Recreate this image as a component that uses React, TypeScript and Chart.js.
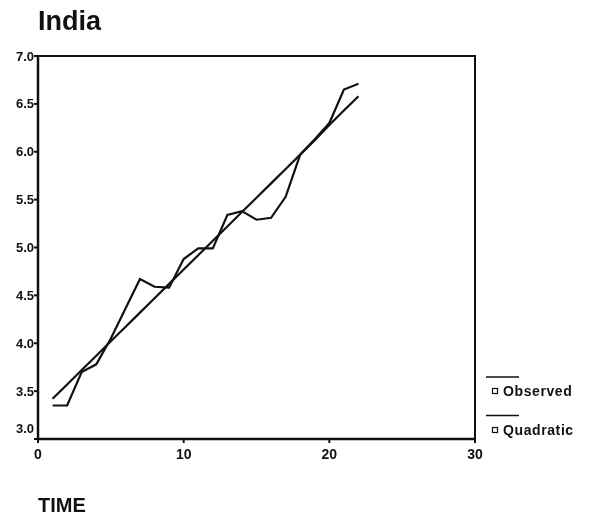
import { useEffect, useRef } from "react";
import { Chart, registerables } from "chart.js";

Chart.register(...registerables);

// Time index for each yearly observation
const TIME = [1, 2, 3, 4, 5, 6, 7, 8, 9, 10, 11, 12, 13, 14, 15, 16, 17, 18, 19, 20, 21, 22];

// Observed series
const OBSERVED = [
  3.35, 3.35, 3.7, 3.78, 4.05, 4.36, 4.67, 4.59, 4.58, 4.88, 4.99,
  4.99, 5.34, 5.38, 5.29, 5.31, 5.53, 5.97, 6.13, 6.3, 6.65, 6.71,
];

// Fitted quadratic trend
const QUADRATIC = [
  3.42, 3.57, 3.72, 3.87, 4.02, 4.17, 4.32, 4.47, 4.62, 4.77, 4.92,
  5.07, 5.22, 5.37, 5.52, 5.67, 5.82, 5.97, 6.12, 6.28, 6.43, 6.58,
];

const X_TICKS = [0, 10, 20, 30];
const Y_TICKS = [3.0, 3.5, 4.0, 4.5, 5.0, 5.5, 6.0, 6.5, 7.0];
const TITLE = "India";
const X_TITLE = "TIME";
const SERIES_NAMES = ["Observed", "Quadratic"];

const FONT = "'Liberation Sans', Arial, Helvetica, sans-serif";
const INK = "#111";

const frame = {
  id: "frame",
  afterDraw(chart: any) {
    const { ctx, chartArea } = chart;
    const { left, top, right, bottom } = chartArea;
    const xs = chart.scales.x;
    const ys = chart.scales.y;
    ctx.save();
    ctx.strokeStyle = INK;
    ctx.fillStyle = INK;

    // plot box
    ctx.lineWidth = 2;
    ctx.strokeRect(left, top, right - left, bottom - top);
    ctx.lineWidth = 2.5;
    ctx.beginPath();
    ctx.moveTo(left - 1, bottom);
    ctx.lineTo(right + 1, bottom);
    ctx.moveTo(left, top);
    ctx.lineTo(left, bottom);
    ctx.stroke();

    // x ticks and labels
    ctx.lineWidth = 2;
    ctx.font = `bold 14px ${FONT}`;
    ctx.textAlign = "center";
    ctx.textBaseline = "alphabetic";
    X_TICKS.forEach((v) => {
      const px = xs.getPixelForValue(v);
      ctx.beginPath();
      ctx.moveTo(px, bottom);
      ctx.lineTo(px, bottom + 4);
      ctx.stroke();
      ctx.fillText(String(v), px, bottom + 20);
    });

    // y ticks and labels
    ctx.font = `bold 13px ${FONT}`;
    ctx.textAlign = "right";
    Y_TICKS.forEach((v) => {
      const py = ys.getPixelForValue(v);
      ctx.beginPath();
      ctx.moveTo(left - 4, py);
      ctx.lineTo(left, py);
      ctx.stroke();
      const shift = v === ys.min ? -11 : 0;
      ctx.fillText(v.toFixed(1), left - 4, py + 4.5 + shift);
    });

    // titles
    ctx.textAlign = "left";
    ctx.font = `bold 27px ${FONT}`;
    ctx.fillText(TITLE, left, 30);
    ctx.font = `bold 20px ${FONT}`;
    ctx.fillText(X_TITLE, left, 512);

    // legend
    ctx.font = `bold 14px ${FONT}`;
    (ctx as any).letterSpacing = "0.6px";
    SERIES_NAMES.forEach((name, i) => {
      const lineY = 377 + i * 38.5;
      const rowY = 391 + i * 39;
      ctx.lineWidth = 1.5;
      ctx.beginPath();
      ctx.moveTo(486, lineY);
      ctx.lineTo(519, lineY);
      ctx.stroke();
      ctx.lineWidth = 1.2;
      ctx.strokeRect(492.5, rowY - 2.5, 5, 5);
      ctx.fillText(name, 503, rowY + 5);
    });
    ctx.restore();
  },
};

export default function App() {
  const ref = useRef<HTMLCanvasElement | null>(null);

  useEffect(() => {
    document.body.style.margin = "0";
    const canvas = ref.current;
    if (!canvas) return;
    const chart = new Chart(canvas, {
      type: "line",
      data: {
        datasets: [
          {
            label: SERIES_NAMES[0],
            data: TIME.map((t, i) => ({ x: t, y: OBSERVED[i] })),
            borderColor: INK,
            borderWidth: 2.2,
            pointRadius: 0,
            tension: 0,
            fill: false,
          },
          {
            label: SERIES_NAMES[1],
            data: TIME.map((t, i) => ({ x: t, y: QUADRATIC[i] })),
            borderColor: INK,
            borderWidth: 2.2,
            pointRadius: 0,
            tension: 0,
            fill: false,
          },
        ],
      },
      options: {
        responsive: false,
        animation: false,
        devicePixelRatio: 1,
        layout: { padding: { left: 38, top: 56, right: 122, bottom: 79 } },
        scales: {
          x: { type: "linear", min: 0, max: 30, display: false },
          y: { type: "linear", min: 3, max: 7, display: false },
        },
        plugins: {
          legend: { display: false },
          tooltip: { enabled: false },
          title: { display: false },
        },
      },
      plugins: [frame],
    });
    return () => chart.destroy();
  }, []);

  return (
    <div style={{ width: 597, height: 518, background: "#fff" }}>
      <canvas ref={ref} width={597} height={518} />
    </div>
  );
}
